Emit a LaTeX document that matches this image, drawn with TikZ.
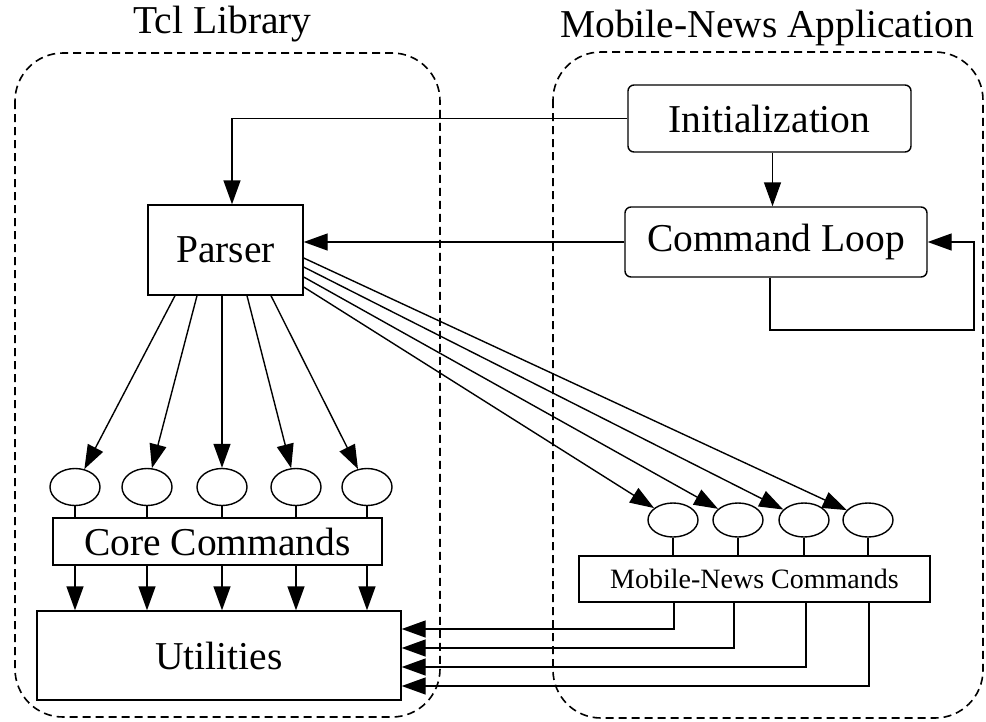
\documentclass[tikz,border=0pt]{standalone}
\usepackage{fontspec}
\setmainfont{Liberation Serif}
\usetikzlibrary{arrows.meta,shapes.geometric}
\begin{document}
\begin{tikzpicture}[x=1pt,y=-1pt,
  every node/.style={inner sep=0pt},
  conn/.style={line width=1.4pt},
  arr/.style={conn,-{Triangle[length=24pt,width=17pt]}},
  box/.style={draw,line width=1.4pt},
  rbox/.style={box,rounded corners=6pt},
  port/.style={draw,line width=1.4pt,ellipse,minimum width=50pt,minimum height=37pt},
  mnport/.style={port,minimum height=34pt},
  group/.style={draw,line width=1.6pt,dash pattern=on 8pt off 5pt,rounded corners=48pt},
  big/.style={font=\fontsize{39.5}{42}\selectfont},
  small/.style={font=\fontsize{28}{30}\selectfont}]
\useasboundingbox (0,0) rectangle (986,721);

% the two groups
\draw[group] (15,53) rectangle (440,717);
\draw[group] (553,52) rectangle (983,718);
\node[big,anchor=base] (tcltitle) at (222.5,33) {Tcl Library};
\node[big,anchor=base] (apptitle) at (767,37) {Mobile-News Application};

% main boxes
\node[box,big,minimum width=155pt,minimum height=90pt] (parser) at (225.5,250) {Parser};
\node[rbox,big,minimum width=283pt,minimum height=67pt] (init) at (769.5,118.5) {Initialization};
\node[rbox,big,minimum width=302pt,minimum height=70pt] (loop) at (776,242) {Command Loop};
\node[box,big,minimum width=329pt,minimum height=47pt] (core) at (217.5,541.5) {Core Commands};
\node[box,big,minimum width=364pt,minimum height=89pt] (util) at (219,655.5) {Utilities};
\node[box,small,minimum width=351pt,minimum height=46pt] (mn) at (754.5,579) {Mobile-News Commands};

% command ports
\foreach \i/\x in {1/75,2/147,3/222,4/296,5/367}
  \node[port] (c\i) at (\x,487) {};
\foreach \i/\x in {1/673,2/738,3/804,4/868}
  \node[mnport] (m\i) at (\x,520) {};

% control flow in the application
\draw[arr] (init.west) -| ([xshift=6.5pt]parser.north);
\draw[arr] ([xshift=3pt]init.south) -- ([xshift=3pt]init.south |- loop.north);
\draw[arr] (loop.west) -- (parser.east |- loop.west);
\coordinate (loopturn) at (974,330);
\draw[arr] ([xshift=-6pt]loop.south) |- (loopturn) |- (loop.east);

% parser dispatch to core commands
\foreach \i/\dx in {1/-50.5,2/-28.5,3/-3.5,4/21.5,5/45.5}
  \draw[arr] ([xshift=\dx pt]parser.south) -- (c\i);

% parser dispatch to application commands
\foreach \i/\yy in {4/258,3/267,2/277,1/287}
  \draw[arr] (parser.east |- 0,\yy) -- (m\i);

% ports attached to their command boxes
\foreach \i in {1,...,5}{
  \draw[conn] (c\i.south) -- (c\i.south |- core.north);
  \draw[arr] (c\i |- core.south) -- (c\i |- util.north);
}
\foreach \i in {1,...,4}
  \draw[conn] (m\i.south) -- (m\i.south |- mn.north);

% application commands call the utilities
\foreach \x/\yy in {674/629,734/648,806/667,869/686}
  \draw[arr] (\x,0 |- mn.south) |- (util.east |- 0,\yy);
\end{tikzpicture}
\end{document}
